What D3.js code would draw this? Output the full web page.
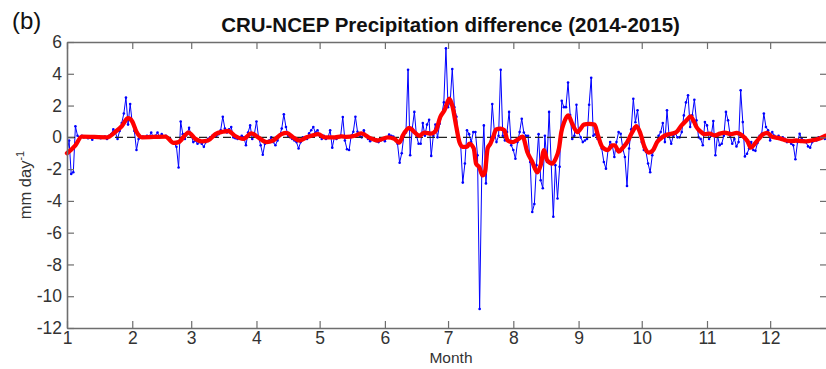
<!DOCTYPE html>
<meta charset="utf-8">

<!-- Load d3.js -->
<script src="https://d3js.org/d3.v7.min.js"></script>

<style>
  body { margin: 0; background: #fff; }
  text { font-family: "Liberation Sans", Arial, Helvetica, sans-serif; }
</style>

<div id="my_dataviz"></div>

<script>

// daily CRU - NCEP difference, index = day of year (0 = 1 Jan)
var dailyDiff = [
  -1.0, -0.2, -2.3, -2.2, 0.7, 0.1, 0.0, 0.1, 0.0, 0.05,
  -0.05, 0.0, -0.15, 0.0, 0.05, 0.0, -0.05, 0.0, 0.05, -0.1,
  0.1, 0.2, 0.5, 0.3, -0.1, 0.4, 0.9, 1.5, 2.5, 0.8,
  2.1, 0.9, 0.4, -0.8, -0.1, 0.0, 0.05, 0.0, 0.1, 0.05,
  0.3, 0.0, 0.1, 0.3, 0.0, 0.2, 0.05, 0.1, 0.0, -0.1,
  -0.3, -0.4, -0.6, -1.9, 1.0, 0.2, -0.1, 0.2, 0.6, 0.1,
  -0.3, -0.2, -0.4, -0.3, -0.4, -0.6, -0.3, -0.1, 0.0, 0.1,
  0.1, 0.1, 0.2, 0.45, 1.3, 0.55, 0.3, 0.5, 0.65, 0.0,
  -0.05, -0.1, 0.0, 0.1, 0.0, -0.5, 0.3, 0.75, -0.1, 0.2,
  1.0, 0.0, -0.5, -1.1, -0.4, -0.3, -0.2, 0.0, -0.3, -0.5,
  -0.2, 0.1, 0.55, 1.45, 0.65, 0.1, 0.0, -0.1, -0.2, -0.3,
  -0.7, -0.3, 0.0, -0.05, -0.1, 0.25, 0.45, 0.65, 0.3, 0.45,
  0.1, -0.1, 0.1, -0.1, 0.0, 0.45, -0.65, 0.0, -0.1, 0.0,
  0.1, 1.28, -0.2, -0.75, -0.8, 0.1, 0.35, 1.3, 0.35, 0.1,
  0.0, 0.45, 0.1, -0.1, -0.25, -0.1, -0.15, -0.25, -0.3, -0.2,
  -0.1, -0.25, 0.0, 0.17, 0.1, 0.05, -0.1, -0.4, -1.6, -1.0,
  0.1, 0.3, 4.25, -1.13, 0.55, 1.6, 0.1, -0.4, -0.4, 0.9,
  0.1, 0.8, 1.1, -1.17, 0.1, 0.8, 0.0, 0.85, 1.4, 2.2,
  5.6, 1.9, 2.2, 4.3, 1.9, 1.3, 0.0, -0.5, -2.85, -1.65,
  0.45, 0.2, -0.3, 0.33, 0.33, -1.13, -10.8, -2.4, 0.75, -2.9,
  -0.6, -0.4, 2.1, 0.33, -0.3, 0.1, 4.25, 0.1, -0.2, 0.33,
  1.6, -0.5, -0.8, -1.35, -0.3, 0.33, 1.17, 0.3, 0.1, 0.1,
  -1.55, -4.7, -4.2, -1.75, 0.2, -2.7, -3.2, 0.1, -1.55, 1.6,
  -1.65, -5.0, -1.75, -3.85, -1.85, 2.3, 1.9, 1.9, 3.45, 1.4,
  -0.1, 0.1, 2.05, 0.33, 0.0, -0.3, -0.2, -0.1, 2.05, 3.75,
  0.1, 0.2, -0.1, -0.2, -0.7, -1.55, -1.97, -0.8, -0.3, -0.5,
  -1.24, -0.3, 0.33, 0.23, -0.7, -1.24, -3.06, -0.7, 0.5, 2.43,
  0.95, 1.7, 0.45, -0.3, -0.8, -0.9, -1.65, -2.2, -1.13, -0.7,
  -0.3, 0.1, 0.33, 0.9, -0.3, 1.7, 0.1, -0.4, 0.1, 0.23,
  0.0, 0.0, 0.33, 1.38, 2.2, 2.65, 0.65, 1.38, 2.37, 1.07,
  0.0, -0.1, -0.5, 0.96, 0.75, -0.1, 0.1, 1.03, -1.13, 0.1,
  -0.5, -0.4, 0.1, 1.6, 1.07, 0.1, -0.4, -0.1, -0.57, -0.3,
  2.96, 0.96, -1.2, -1.03, -0.7, -0.3, -0.8, -0.85, -0.35, 0.1,
  0.23, 1.5, 0.65, 0.45, -0.2, 0.33, 0.1, 0.0, 0.1, -0.1,
  0.0, -0.1, -0.3, -0.2, -0.4, -0.5, -1.38, -0.3, 0.23, -0.1,
  -0.2, -0.3, -0.57, -0.65, -0.3, -0.1, -0.2, 0.0, 0.0, 0.05, -0.1
];

// smoothed curve (red)
var smoothDay = [0, 4, 7, 19, 23, 26, 29, 31, 33, 35.6, 46.7, 50.6, 53, 57.7, 61, 64, 67, 70.5, 74, 76.6,
  79.7, 83.7, 87.6, 90.8, 94.8, 97.9, 101.9, 104.3, 107.4, 110.6, 113.8, 116.1, 119.3, 122.4, 127.2, 130.4, 132.7, 136.7, 139.9, 143.5,
  147.6, 152.4, 155.5, 157.9, 159.5, 162.6, 165, 167.4, 169.8, 172.9, 175.3, 177.3, 179.3, 181.6, 183.2, 184.8, 186.4, 187.9, 190, 191.1,
  193.2, 194.3, 195.9, 197.4, 198.5, 199.8, 201.1, 202.7, 203.8, 205.8, 207.7, 209.3, 211.7, 214, 216.4, 218.6, 221, 223.4, 225, 226.6,
  228.1, 230.5, 232.1, 233.7, 234.8, 236, 238.1, 240, 242.4, 244, 245.5, 247.9, 250.6, 252.2, 254.2, 256.9, 259, 260.2, 262.1, 263.7,
  266.1, 268.5, 270.5, 272.4, 274.3, 276.4, 278.4, 280.3, 282.7, 285.1, 287.3, 289.5, 291.9, 294.3, 296.2, 297.9, 299, 300.6, 302.9, 305.3,
  307.7, 310.1, 312.4, 315.6, 318, 321.2, 323.2, 324.8, 326.7, 328.6, 330.7, 332.7, 334.6, 337, 339.3, 341.7, 344.1, 346.5, 348.8, 351.2,
  353.6, 356.8, 360.3];
var smoothVal = [-1.0, -0.5, 0.05, 0.0, 0.35, 0.7, 1.2, 1.0, 0.35, 0.0, 0.05, -0.35, -0.3, 0.3, -0.1, -0.25, -0.2, 0.2, 0.35, 0.4,
  0.1, -0.1, 0.25, 0.0, -0.3, -0.2, 0.2, 0.28, 0.0, -0.2, 0.0, 0.1, 0.2, 0.0, 0.0, 0.06, 0.03, 0.1, 0.25, -0.02,
  -0.2, 0.0, -0.1, -0.33, 0.12, 0.6, 0.33, 0.1, 0.3, 0.23, 0.45, 1.28, 1.7, 2.43, 1.9, 0.75, -0.3, -0.6, -0.6, -0.4,
  -0.7, -1.65, -1.9, -2.4, -2.2, -0.7, -0.4, 0.12, 0.5, 0.55, 0.45, -0.2, -0.3, -0.15, 0.05, -0.9, -1.55, -2.2, -1.75, -0.8,
  -1.45, -1.65, -1.35, -0.7, 0.33, 0.9, 1.38, 0.85, 0.33, 0.55, 0.8, 0.85, 0.8, 0.12, -0.6, -0.8, -0.5, -0.5, -0.9, -0.7,
  -0.3, 0.33, 0.7, 0.23, -0.6, -0.96, -0.8, -0.3, 0.0, 0.17, 0.23, 0.33, 0.75, 1.07, 1.32, 0.96, 0.65, 0.4, 0.2, 0.23,
  0.12, 0.23, 0.3, 0.2, 0.28, 0.06, -0.23, -0.65, -0.4, -0.1, 0.2, 0.28, 0.06, -0.02, -0.1, -0.2, -0.23, -0.2, -0.23, -0.25,
  -0.2, -0.1, 0.1];

var monthStart = [0, 31, 59, 90, 120, 151, 181, 212, 243, 273, 304, 334];
var monthLabel = ["1", "2", "3", "4", "5", "6", "7", "8", "9", "10", "11", "12"];
var yTicks = [-12, -10, -8, -6, -4, -2, 0, 2, 4, 6];

var margin = {top: 42, right: -1, bottom: 41, left: 67},
    width = 826 - margin.left - margin.right,
    height = 369 - margin.top - margin.bottom;

var svg = d3.select("#my_dataviz")
  .append("svg")
    .attr("width", 826)
    .attr("height", 369)
  .append("g")
    .attr("transform", "translate(" + margin.left + "," + margin.top + ")");

var x = d3.scaleLinear()
  .domain([0, 361])
  .range([0, width]);

var y = d3.scaleLinear()
  .domain([-12, 6])
  .range([height, 0]);

// blue daily series
var blueLine = d3.line()
  .x(function(d, i) { return x(i); })
  .y(function(d) { return y(d); });

svg.append("path")
  .datum(dailyDiff)
  .attr("fill", "none")
  .attr("stroke", "#0000ff")
  .attr("stroke-width", 1)
  .attr("d", blueLine);

svg.append("g")
  .selectAll("dot")
  .data(dailyDiff)
  .enter()
  .append("circle")
    .attr("cx", function(d, i) { return x(i); })
    .attr("cy", function(d) { return y(d); })
    .attr("r", 1.3)
    .style("fill", "#0000ff");

// zero line
svg.append("line")
  .attr("x1", x(0))
  .attr("x2", x(361))
  .attr("y1", y(0))
  .attr("y2", y(0))
  .attr("stroke", "#222")
  .attr("stroke-width", 1.2)
  .attr("stroke-dasharray", "8,4");

// red smoothed curve
var redLine = d3.line()
  .x(function(d, i) { return x(smoothDay[i]); })
  .y(function(d) { return y(d); })
  .curve(d3.curveMonotoneX);

svg.append("path")
  .datum(smoothVal)
  .attr("fill", "none")
  .attr("stroke", "#ff0000")
  .attr("stroke-width", 4.3)
  .attr("stroke-linejoin", "round")
  .attr("stroke-linecap", "round")
  .attr("d", redLine);

// axes, matlab style box with inward ticks
var xAxis = svg.append("g")
  .attr("transform", "translate(0," + height + ")")
  .call(d3.axisBottom(x).tickValues(monthStart)
    .tickFormat(function(d, i) { return monthLabel[i]; })
    .tickSizeInner(-7).tickSizeOuter(0).tickPadding(4));

var xTop = svg.append("g")
  .call(d3.axisTop(x).tickValues(monthStart).tickFormat("")
    .tickSizeInner(-7).tickSizeOuter(0));

var yAxis = svg.append("g")
  .call(d3.axisLeft(y).tickValues(yTicks)
    .tickFormat(function(d) { return String(d); })
    .tickSizeInner(-7).tickSizeOuter(0).tickPadding(5));

var yRight = svg.append("g")
  .attr("transform", "translate(" + width + ",0)")
  .call(d3.axisRight(y).tickValues(yTicks).tickFormat("")
    .tickSizeInner(-7).tickSizeOuter(0));

svg.selectAll(".domain").attr("stroke", "#6e6e6e").attr("stroke-width", 1.6);
svg.selectAll(".tick line").attr("stroke", "#6e6e6e").attr("stroke-width", 1.2);
svg.selectAll(".tick text")
  .style("font-size", "17.5px")
  .style("font-family", "'Liberation Sans', Arial, sans-serif")
  .attr("fill", "#333");

// labels
svg.append("text")
  .attr("x", 451 - margin.left)
  .attr("y", 363 - margin.top)
  .attr("text-anchor", "middle")
  .style("font-size", "15.5px")
  .attr("fill", "#333")
  .text("Month");

var ylab = svg.append("text")
  .attr("transform", "rotate(-90)")
  .attr("x", -(185 - margin.top))
  .attr("y", 31 - margin.left)
  .attr("text-anchor", "middle")
  .style("font-size", "16.5px")
  .attr("fill", "#333");
ylab.append("tspan").text("mm day");
ylab.append("tspan").attr("dy", -7).style("font-size", "11px").text("-1");

svg.append("text")
  .attr("x", 450.5 - margin.left)
  .attr("y", 31.5 - margin.top)
  .attr("text-anchor", "middle")
  .style("font-size", "20.5px")
  .style("font-weight", "bold")
  .attr("fill", "#111")
  .text("CRU-NCEP Precipitation difference (2014-2015)");

svg.append("text")
  .attr("x", 12 - margin.left)
  .attr("y", 29 - margin.top)
  .style("font-size", "24px")
  .attr("fill", "#111")
  .text("(b)");

</script>
